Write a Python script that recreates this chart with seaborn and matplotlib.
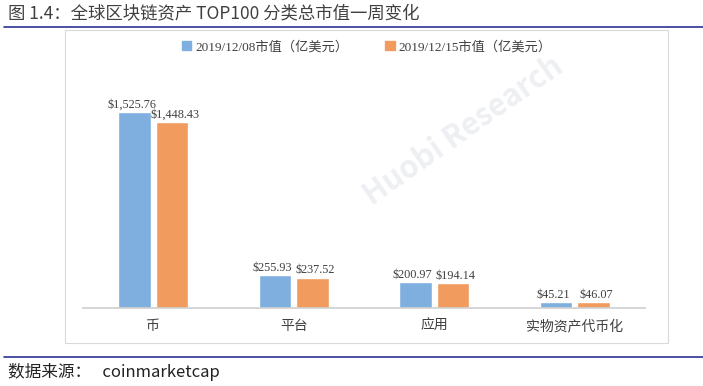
import matplotlib
matplotlib.use("Agg")
import matplotlib.pyplot as plt
import seaborn as sns
import pandas as pd
from matplotlib.patches import Rectangle
from matplotlib.lines import Line2D
from matplotlib.font_manager import FontProperties

categories = ["币", "平台", "应用", "实物资产代币化"]
series_names = ["2019/12/08市值（亿美元）", "2019/12/15市值（亿美元）"]
values_1208 = [1525.76, 255.93, 200.97, 45.21]
values_1215 = [1448.43, 237.52, 194.14, 46.07]
colors = ["#7EAFDF", "#F19B5E"]

sns.set_theme(style="white")
plt.rcParams["font.family"] = ["Noto Sans CJK SC", "DejaVu Sans"]

df = pd.DataFrame({
    "category": categories * 2,
    "series": [series_names[0]] * 4 + [series_names[1]] * 4,
    "value": values_1208 + values_1215,
})

fig = plt.figure(figsize=(7.03, 3.86), dpi=100)
ax = fig.add_axes([0.118, 0.202, 0.7995, 0.598])

sns.barplot(data=df, x="category", y="value", hue="series", palette=colors,
            width=0.53, gap=0.13, ax=ax, legend=False, saturation=1)

ax.set_ylim(0, 1800)
ax.set_xlim(-0.5, 3.5)
ax.set_xlabel("")
ax.set_ylabel("")
ax.set_yticks([])
for side in ["left", "right", "top"]:
    ax.spines[side].set_visible(False)
ax.spines["bottom"].set_color("#D0D0D0")
ax.tick_params(axis="x", length=0, labelsize=10, colors="#404040", pad=8)

for i, cont in enumerate(ax.containers):
    shift = -0.02 if i == 0 else 0.02
    for bar in cont:
        h = bar.get_height()
        ax.text(bar.get_x() + bar.get_width() / 2 + shift, h + 12, f"${h:,.2f}",
                ha="center", va="bottom", fontsize=8.8, color="#404040",
                family=["Liberation Serif", "DejaVu Serif"])

# frame around chart
fig.patches.append(Rectangle((65 / 703, 1 - 343 / 386), 603 / 703, 313 / 386,
                             transform=fig.transFigure, fill=False,
                             edgecolor="#D9D9D9", linewidth=0.8))

# title and rules
fig.text(8 / 703, 1 - 14 / 386, "图 1.4：全球区块链资产 TOP100 分类总市值一周变化",
         fontsize=12.5, color="#404040", va="center", ha="left")
fig.lines.append(Line2D([0.005, 1.0], [1 - 27 / 386] * 2, transform=fig.transFigure,
                        color="#2E3192", linewidth=1.2))
fig.lines.append(Line2D([0.005, 1.0], [1 - 357 / 386] * 2, transform=fig.transFigure,
                        color="#2E3192", linewidth=1.2))
fig.text(8 / 703, 1 - 372 / 386, "数据来源：   coinmarketcap",
         fontsize=12, color="#222222", va="center", ha="left")

# legend
handles = [Rectangle((0, 0), 1, 1, color=c) for c in colors]
legend_font = FontProperties(family=["Liberation Serif", "Noto Sans CJK SC"], size=9.5)
fig.legend(handles, series_names, loc="center", bbox_to_anchor=(0.522, 1 - 47 / 386),
           ncol=2, frameon=False, prop=legend_font, handlelength=0.7, handleheight=0.7,
           handletextpad=0.3, columnspacing=2.8, labelcolor="#404040")

# faint watermark
fig.text(0.66, 0.66, "Huobi Research", fontsize=22, color="#C8CCD8", alpha=0.3,
         rotation=35, ha="center", va="center", fontweight="bold", zorder=0)

fig.savefig("out.png", dpi=100)
